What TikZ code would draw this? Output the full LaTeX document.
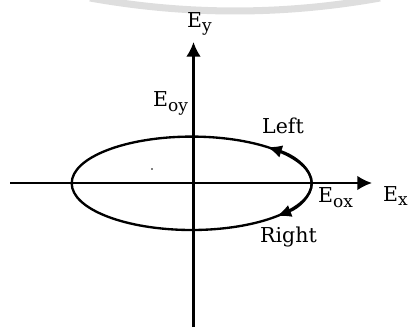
\documentclass[tikz,border=0pt]{standalone}
\usepackage{fontspec}
\setmainfont{DejaVu Serif}
\usetikzlibrary{arrows.meta, positioning, calc}
\definecolor{colBand}{RGB}{222,222,222}
\tikzset{
    axis/.style={line width=2pt, -{Latex[length=4.4mm, width=4.4mm]}},
    orbit/.style={line width=2pt},
    sense/.style={line width=2pt, -{Latex[length=4.4mm, width=3.8mm]}},
    lbl/.style={font=\fontsize{17.5}{20}\selectfont, inner sep=0pt, anchor=base west},
    band/.style={colBand, line width=6pt}
}
\newcommand{\field}[2]{#1\raisebox{-4pt}{\fontsize{14.5}{14}\selectfont #2}}

\begin{document}
\begin{tikzpicture}[x=0.03cm, y=0.03cm]
    \useasboundingbox (0,0) rectangle (409,327);

    \coordinate (bandleft) at (90,329);
    \coordinate (bandright) at (380,329);
    \draw[band] (bandleft) .. controls (187,311.7) and (283,311.7) .. (bandright);

    \coordinate (origin) at (191.7,143.7);
    \coordinate (xstart) at (10,144);
    \coordinate (xend) at (372,144);
    \coordinate (ystart) at (193.5,0);
    \coordinate (yend) at (193.5,285);
    \coordinate (rightpt) at (311.7,143.7);

    \draw[axis] (xstart) -- (xend);
    \draw[axis] (ystart) -- (yend);

    \draw[orbit] (origin) ellipse[x radius=120, y radius=46.7];
    \draw[sense] (rightpt) arc[start angle=0, end angle=51, x radius=120, y radius=46.7];
    \draw[sense] (rightpt) arc[start angle=0, end angle=-45, x radius=120, y radius=46.7];

    \fill (152,158) circle[radius=0.8];

    \node[lbl] (ey) at (187,300) {\field{E}{y}};
    \node[lbl] (eoy) at (153,220) {\field{E}{oy}};
    \node[lbl] (left) at (262,194) {Left};
    \node[lbl] (eox) at (318,124) {\field{E}{ox}};
    \node[lbl] (ex) at (383,126) {\field{E}{x}};
    \node[lbl] (right) at (260,84) {Right};

\end{tikzpicture}
\end{document}
